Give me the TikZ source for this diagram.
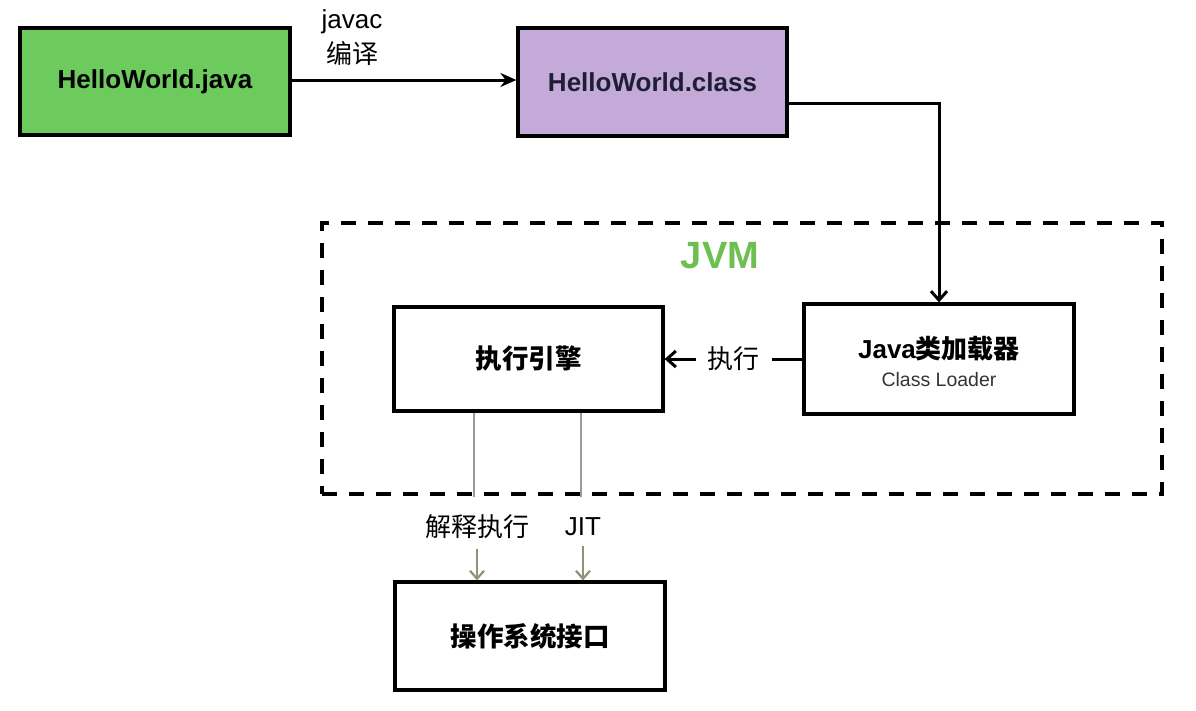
\documentclass[tikz,border=0pt]{standalone}
\usepackage{fontspec}
\setmainfont{Liberation Sans}
\newfontfamily\cjk{Noto Sans CJK SC}
\usetikzlibrary{arrows.meta,calc}
\definecolor{javagreen}{HTML}{6CCB5C}
\definecolor{classpurple}{HTML}{C4AAD9}
\definecolor{jvmgreen}{HTML}{6CBF50}
\definecolor{thingray}{HTML}{9A9A9A}
\definecolor{olivearrow}{HTML}{8C9478}
\tikzset{
  box/.style={draw=black, line width=3.2pt, minimum width=270pt, minimum height=106pt, inner sep=0pt, align=center},
  conn/.style={line width=3pt, black},
  barb/.style={-{Straight Barb[length=9pt,width=16pt,line width=3pt]}},
  lbl/.style={font=\fontsize{25}{28}\selectfont, inner sep=0pt},
  grayline/.style={thingray, line width=2.2pt},
  grayarrow/.style={olivearrow, line width=2.2pt, -{Straight Barb[length=8pt,width=14pt,line width=2.2pt]}}
}
\begin{document}
\begin{tikzpicture}[x=1pt,y=-1pt]
\useasboundingbox (0,0) rectangle (1196,710);
% dashed JVM frame
\node[draw=black, line width=3.2pt, dash pattern=on 15pt off 12pt, minimum width=840pt, minimum height=271pt, inner sep=0pt] (jvm) at (742,358.5) {};
\node[font=\bfseries\fontsize{38}{40}\selectfont, text=jvmgreen, inner sep=0pt] (jvmt) at (720,256) {JVM};
% boxes
\node[box, fill=javagreen, minimum height=107pt] (java) at (155,81.5) {\bfseries\fontsize{26}{28}\selectfont HelloWorld.java};
\node[box, fill=classpurple, minimum width=269pt, minimum height=108pt] (cls) at (652.5,82) {\bfseries\fontsize{26}{28}\selectfont\color[HTML]{1E1E35}HelloWorld.class};
\node[box, minimum width=269pt, minimum height=104pt] (eng) at (528.5,359) {\cjk\bfseries\fontsize{26.5}{28}\selectfont 执行引擎};
\node[box, minimum height=110pt] (cl) at (939,359) {};
\node[font=\bfseries\fontsize{26}{28}\selectfont, inner sep=0pt] (clt) at (939,349) {Java{\cjk 类加载器}};
\node[font=\fontsize{19.5}{22}\selectfont, text=black!80, inner sep=0pt] (cls2) at (939,380) {Class Loader};
\node[box, minimum height=108pt] (os) at (530,636) {\cjk\bfseries\fontsize{26.5}{28}\selectfont 操作系统接口};
% javac label
\node[lbl, font=\fontsize{26}{28}\selectfont] (javac) at (352,22) {javac};
\node[lbl, font=\cjk\fontsize{26}{28}\selectfont] (bianyi) at (352,54) {编译};
% connectors
\draw[conn, -{Stealth[length=16pt,width=14pt]}] (java.east |- 0,80) -- (cls.west |- 0,80);
\draw[conn, barb] ([yshift=-21pt]cls.east) -| (cl.north);
\draw[conn, barb] (cl.west) -- node[fill=white, inner xsep=12pt, inner ysep=2pt, font=\cjk\fontsize{26}{28}\selectfont] (zx) {执行} (eng.east);
% engine to OS
\coordinate (a1) at (474,497);
\coordinate (a2) at (581,497);
\draw[grayline] (eng.south -| a1) -- (a1);
\draw[grayline] (eng.south -| a2) -- (a2);
\node[lbl, font=\cjk\fontsize{26}{28}\selectfont] (jsz) at (477,527) {解释执行};
\node[lbl, font=\fontsize{26}{28}\selectfont] (jit) at (583,527) {JIT};
\draw[grayarrow] (jsz.south) ++(0,10) coordinate (b1) -- (os.north -| b1);
\draw[grayarrow] (jit.south) ++(0,10) coordinate (b2) -- (os.north -| b2);
\end{tikzpicture}
\end{document}
